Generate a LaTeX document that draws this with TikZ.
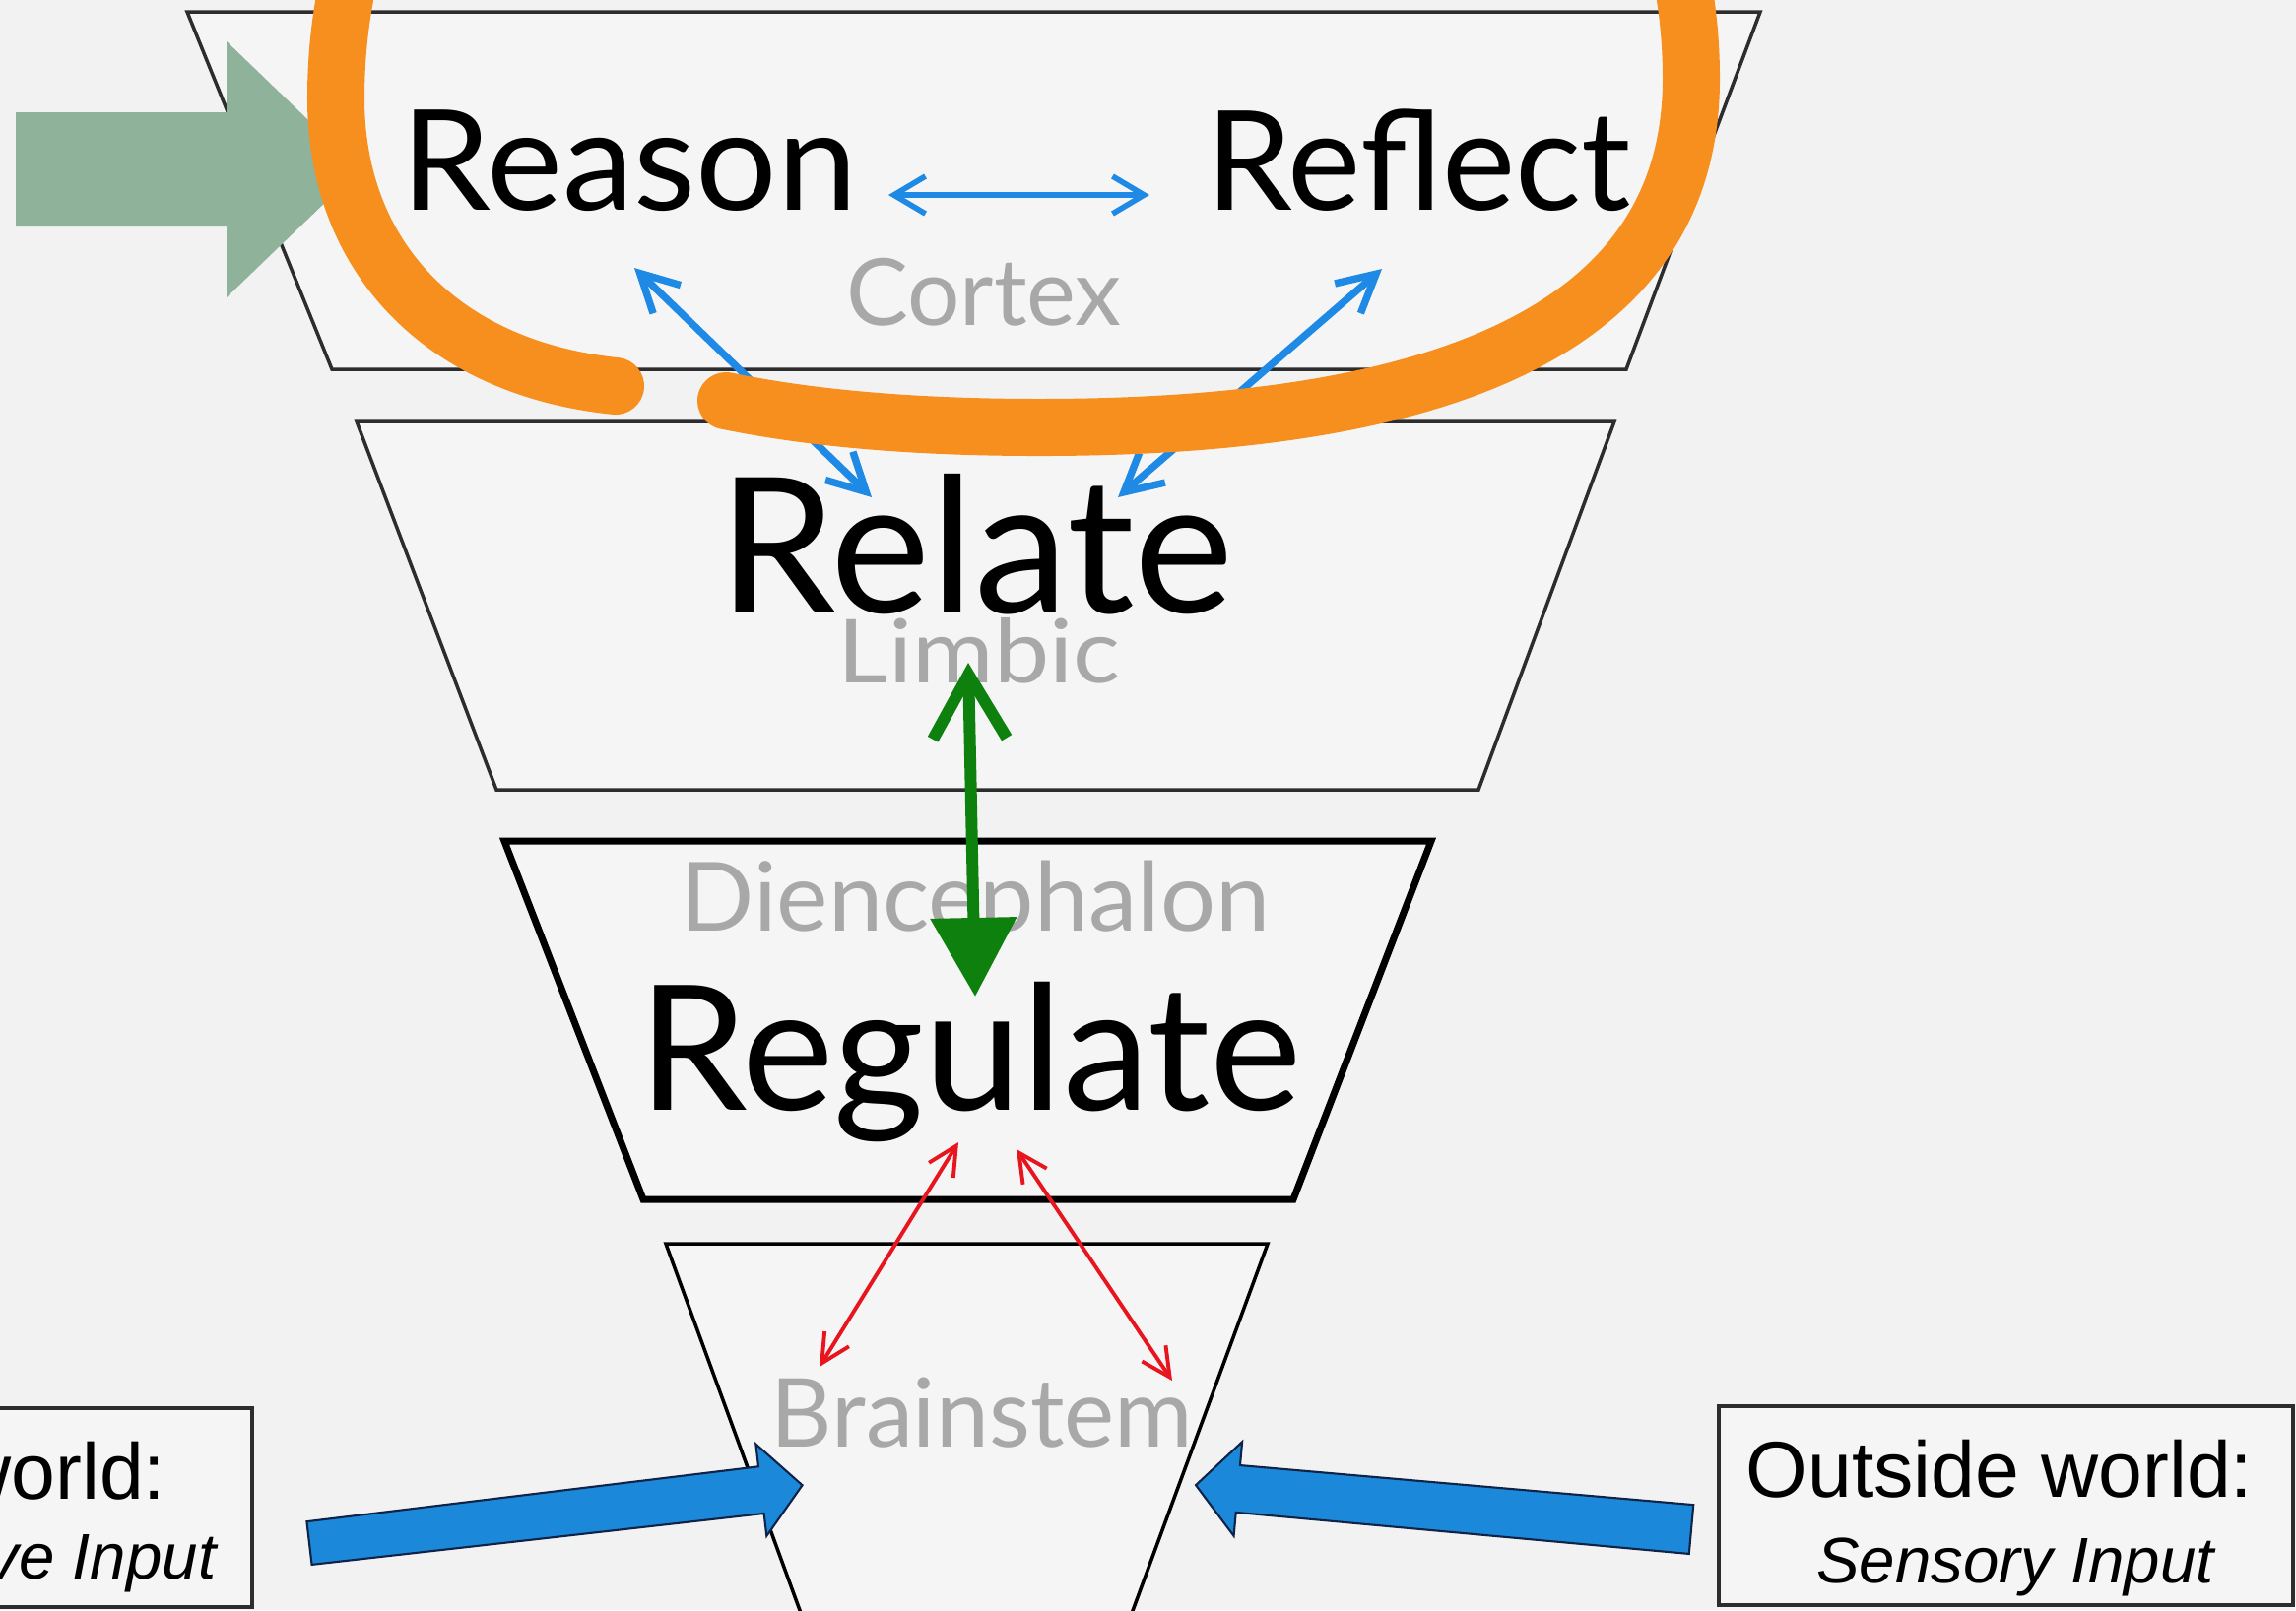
\documentclass[tikz,border=0pt]{standalone}
\usepackage{fontspec}
\setmainfont{Lato}
\newfontfamily\arialfont{Liberation Sans}
\usetikzlibrary{arrows.meta}
\definecolor{bg}{RGB}{242,242,242}
\definecolor{trapfill}{RGB}{245,245,245}
\definecolor{edgegray}{RGB}{45,45,45}
\definecolor{labelgray}{RGB}{168,168,168}
\definecolor{arrblue}{RGB}{30,138,230}
\definecolor{arrred}{RGB}{232,20,30}
\definecolor{arrgreen}{RGB}{14,128,14}
\definecolor{ringorange}{RGB}{247,143,30}
\definecolor{sage}{RGB}{143,178,155}
\definecolor{blockblue}{RGB}{28,136,218}
\definecolor{blockedge}{RGB}{15,35,70}
\tikzset{
  trap/.style={fill=trapfill, draw=edgegray, line width=1pt, line join=miter},
  trapbold/.style={fill=trapfill, draw=black, line width=2pt, line join=miter},
  word/.style={inner sep=0pt, anchor=base, text=black},
  region/.style={inner sep=0pt, anchor=base, text=labelgray},
  bluelink/.style={draw=arrblue, line width=1.6pt,
    {Straight Barb[length=3.2mm,width=3.8mm]}-{Straight Barb[length=3.2mm,width=3.8mm]}},
  bluediag/.style={draw=arrblue, line width=2.1pt,
    {Straight Barb[length=3.8mm,width=4mm]}-{Straight Barb[length=3.8mm,width=4mm]}},
  redlink/.style={draw=arrred, line width=1.1pt,
    {Straight Barb[length=2.9mm,width=2.9mm]}-{Straight Barb[length=2.9mm,width=2.9mm]}},
  greenlink/.style={draw=arrgreen, line width=3.4pt,
    {Straight Barb[length=6.5mm,width=7.5mm]}-{Triangle[length=8mm,width=8.5mm]}},
  ring/.style={draw=ringorange, line width=16.5pt, line cap=round, line join=round},
  blockarrow/.style={fill=blockblue, draw=blockedge, line width=0.6pt, line join=miter},
  infobox/.style={fill=trapfill, draw=edgegray, line width=1pt},
  boxtext/.style={inner sep=0pt, text=black, font=\arialfont\fontsize{22.9}{25}\selectfont},
  boxsub/.style={inner sep=0pt, text=black, font=\arialfont\itshape\fontsize{18.6}{21}\selectfont}
}
\begin{document}
\begin{tikzpicture}[x=0.01cm,y=-0.01cm]
\useasboundingbox (0,0) rectangle (2331,1635);
\clip (0,0) rectangle (2331,1635);
\fill[bg] (0,0) rectangle (2331,1635);

% layers (trapezoids)
\draw[trap] (190,12) -- (1787,12) -- (1651,375) -- (337,375) -- cycle;
\draw[trap] (362,428) -- (1639,428) -- (1501,802) -- (504,802) -- cycle;
\draw[trapbold] (512,854) -- (1453,854) -- (1313,1218) -- (653,1218) -- cycle;
\draw[trap, draw=black] (676,1263) -- (1287,1263) -- (1141,1660) -- (821,1660) -- cycle;

% info boxes
\draw[infobox] (-20,1430) rectangle (256,1632);
\draw[infobox] (1745,1428) rectangle (2328,1630);
\node[boxtext, anchor=base east] (inw) at (169,1522) {world:};
\node[boxsub, anchor=base east] (ini) at (220,1603) {ve Input};
\node[boxtext, anchor=base] (outw) at (2030,1520) {Outside world:};
\node[boxsub, anchor=base] (outi) at (2046,1607) {Sensory Input};

% words
\node[word, font=\fontsize{40.4}{41}\selectfont] (reason) at (639,213) {\scalebox{1.025}[1]{Reason}};
\node[word, font=\fontsize{40}{40}\selectfont] (reflect) at (1440,213) {Reflect};
\node[region, font=\fontsize{26.8}{27}\selectfont] (cortex) at (999,330) {Cortex};
\node[word, font=\fontsize{54.5}{55}\selectfont] (relate) at (991,622) {Relate};
\node[region, font=\fontsize{25.5}{26}\selectfont] (limbic) at (994,693) {\scalebox{1.12}[1]{Limbic}};
\node[region, font=\fontsize{27.6}{28}\selectfont] (dien) at (990,945) {\scalebox{1.02}[1]{Diencephalon}};
\node[word, font=\fontsize{50.3}{51}\selectfont] (regulate) at (985,1127) {Regulate};
\node[region, font=\fontsize{27.5}{28}\selectfont] (brainstem) at (997,1469) {Brainstem};

% connector end points
\coordinate (rsR) at (902,198);
\coordinate (rfL) at (1167,198);
\coordinate (rsB) at (644,272);
\coordinate (reTL) at (885,505);
\coordinate (rfB) at (1403,273);
\coordinate (reTR) at (1135,505);
\coordinate (liB) at (983,673);
\coordinate (reT) at (990,1012);
\coordinate (rgBL) at (973,1160);
\coordinate (bsL) at (832,1388);
\coordinate (rgBR) at (1032,1167);
\coordinate (bsR) at (1190,1402);

% connectors
\draw[bluelink] (rsR) -- (rfL);
\draw[bluediag] (rsB) -- (reTL);
\draw[bluediag] (rfB) -- (reTR);
\draw[greenlink] (liB) -- (reT);
\draw[redlink] (rgBL) -- (bsL);
\draw[redlink] (rgBR) -- (bsR);

% input block arrows
\begin{scope}[shift={(314,1567)}, rotate=6.7]
  \draw[blockarrow] (0,-22) -- (462,-24) -- (462,-47) -- (504,0) -- (462,47) -- (462,24) -- (0,22) -- cycle;
\end{scope}
\begin{scope}[shift={(1717,1553)}, rotate=174.9]
  \draw[blockarrow] (0,-25) -- (462,-24) -- (462,-48) -- (505,0) -- (462,48) -- (462,24) -- (0,25) -- cycle;
\end{scope}

% sage arrow
\fill[sage] (16,114) -- (230,114) -- (230,42) -- (365,172) -- (230,302) -- (230,230) -- (16,230) -- cycle;

% orange ring
\draw[ring] (625,392) .. controls (450,374) and (341,262) .. (341,100)
  .. controls (341,-650) and (1717,-650) .. (1717,80)
  .. controls (1717,305) and (1520,434) .. (1055,434)
  .. controls (900,434) and (800,420) .. (737,407);
\end{tikzpicture}
\end{document}
